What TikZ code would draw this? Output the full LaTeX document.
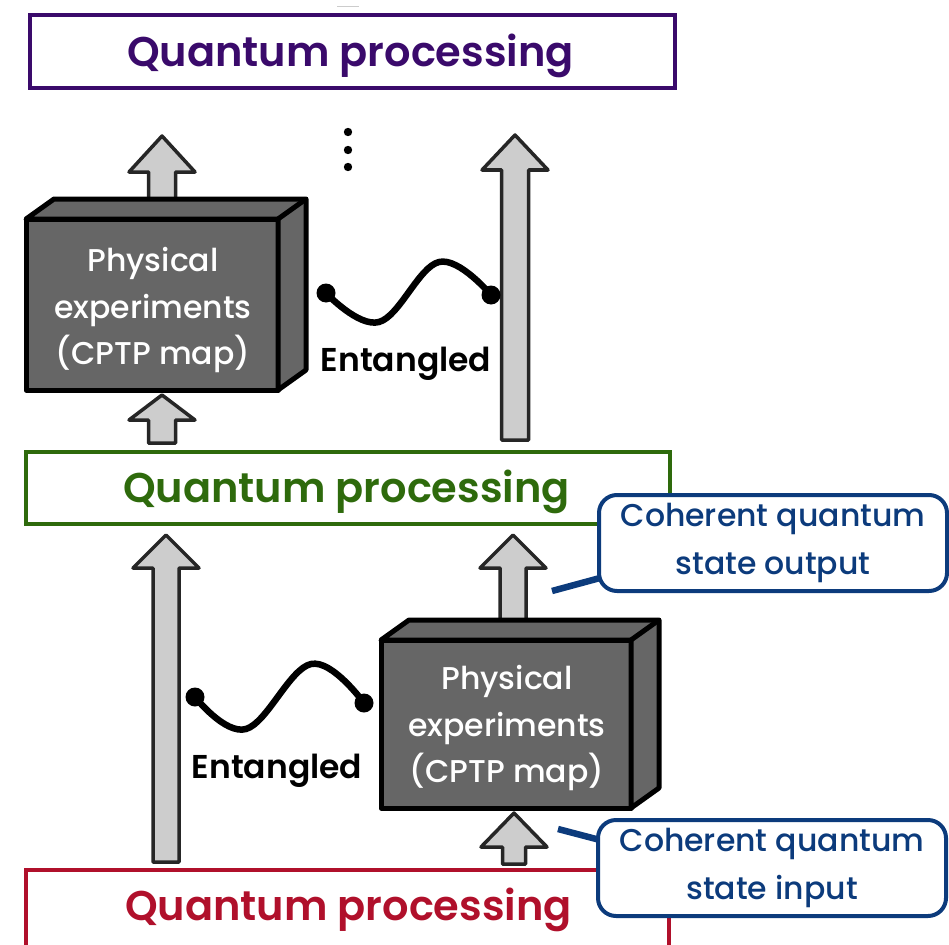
\documentclass[tikz,border=0pt]{standalone}
\usepackage{fontspec}
\setmainfont{Poppins}[BoldFont={Poppins SemiBold}]
\newfontfamily\medfont{Poppins Medium}
\definecolor{qpurple}{HTML}{3A0A6B}
\definecolor{qgreen}{HTML}{2E6A0C}
\definecolor{qred}{HTML}{B0102B}
\definecolor{qblue}{HTML}{0C3B7C}
\definecolor{cubegray}{HTML}{666666}
\definecolor{arrowgray}{HTML}{CDCDCD}
\newcommand\blockup[6]{%
 \draw[blockarrow] (#1,#2) -- ({#1+#5},#3) -- ({#1+#6},#3) -- ({#1+#6},#4) -- ({#1-#6},#4) -- ({#1-#6},#3) -- ({#1-#5},#3) -- cycle;}
\newcommand\cubefaces[1]{%
 \draw[cubeline] (#1.north west) -- ([shift={(28,-20)}]#1.north west) -- ([shift={(28,-20)}]#1.north east) -- ([shift={(28,-20)}]#1.south east) -- (#1.south east) -- (#1.north east) -- cycle;
 \draw[cubeline] (#1.north east) -- ([shift={(28,-20)}]#1.north east);}
\begin{document}
\begin{tikzpicture}[x=1pt,y=-1pt,
  qbox/.style={draw, line width=4pt, fill=white, outer sep=0pt, inner sep=0pt},
  qtext/.style={anchor=base, inner sep=0pt, font=\fontsize{41.5}{50}\selectfont\bfseries},
  callout/.style={draw=qblue, text=qblue, line width=4pt, fill=white, rounded corners=18pt, outer sep=0pt, inner sep=0pt, align=center, font=\fontsize{31.5}{48}\selectfont\medfont},
  tail/.style={qblue, line width=6.5pt},
  blockarrow/.style={fill=arrowgray, draw=black!85, line width=3.5pt, line join=round},
  cubeline/.style={fill=cubegray, draw=black, line width=5pt, line join=round},
  cubefront/.style={cubeline, outer sep=0pt, inner sep=0pt},
  cubetext/.style={text=white, align=center, inner sep=0pt, font=\fontsize{31.5}{46.5}\selectfont\medfont},
  wave/.style={line width=6.5pt, line cap=round},
  ent/.style={font=\fontsize{33}{38}\selectfont\bfseries}]
\useasboundingbox (0,0) rectangle (949,944);
\draw[black!20, line width=1pt] (337,7) -- (359,7);
% boxes
\node[qbox, draw=qpurple, minimum width=645pt, minimum height=73pt] (qtop) at (352.5,51.5) {};
\node[qtext, text=qpurple] (qtoptext) at (350.5,67) {Quantum processing};
\node[qbox, draw=qgreen, minimum width=644pt, minimum height=72pt] (qmid) at (348,488) {};
\node[qtext, text=qgreen] (qmidtext) at (346.5,502) {Quantum processing};
\draw[qred, line width=4pt] (26,950) -- (26,870) -- (669,870) -- (669,950);
\node[qtext, text=qred] (qbot) at (348.5,920) {Quantum processing};
% dots
\fill (348,132) circle (4.2) (348,150) circle (4.2) (348,167) circle (4.2);
\coordinate (vdots) at (348,150);
% arrows
\blockup{162}{136}{172}{215}{33}{13.5}
\blockup{162}{395}{420}{443}{33}{13.5}
\blockup{515}{135}{170}{440}{33}{13.5}
\blockup{166}{535}{568}{862}{33}{13}
\blockup{513}{535}{568}{630}{33}{13}
\blockup{514}{813}{847}{864}{33}{11.5}
% cubes
\node[cubefront, minimum width=252pt, minimum height=171pt] (cubeA) at (152,304.5) {};
\cubefaces{cubeA}
\node[cubetext] (cubeAtext) at (153,310) {Physical\\experiments\\(CPTP map)};
\node[cubefront, minimum width=250pt, minimum height=168pt] (cubeB) at (506,724) {};
\cubefaces{cubeB}
\node[cubetext] (cubeBtext) at (507,728) {Physical\\experiments\\(CPTP map)};
% waves
\coordinate (wa1) at (326,293); \coordinate (wa2) at (491,295);
\draw[wave] plot[smooth, tension=0.65] coordinates {(wa1) (379,322) (439,262) (wa2)};
\fill (wa1) circle (9.5) (wa2) circle (9.5);
\node[ent] (entA) at (406,364) {Entangled};
\coordinate (wb1) at (195,697); \coordinate (wb2) at (364,703);
\draw[wave] plot[smooth, tension=0.65] coordinates {(wb1) (246,729) (311,664) (wb2)};
\fill (wb1) circle (9.5) (wb2) circle (9.5);
\node[ent] (entB) at (277,771) {Entangled};
% callouts
\coordinate (tail1) at (552,591);
\draw[tail] (tail1) -- (600,578);
\node[callout, minimum width=348pt, minimum height=96pt] (cout) at (773,543) {Coherent quantum\\state output};
\coordinate (tail2) at (558,829);
\draw[tail] (tail2) -- (600,840);
\node[callout, minimum width=348pt, minimum height=96pt] (cin) at (772,868) {Coherent quantum\\state input};
\end{tikzpicture}
\end{document}
